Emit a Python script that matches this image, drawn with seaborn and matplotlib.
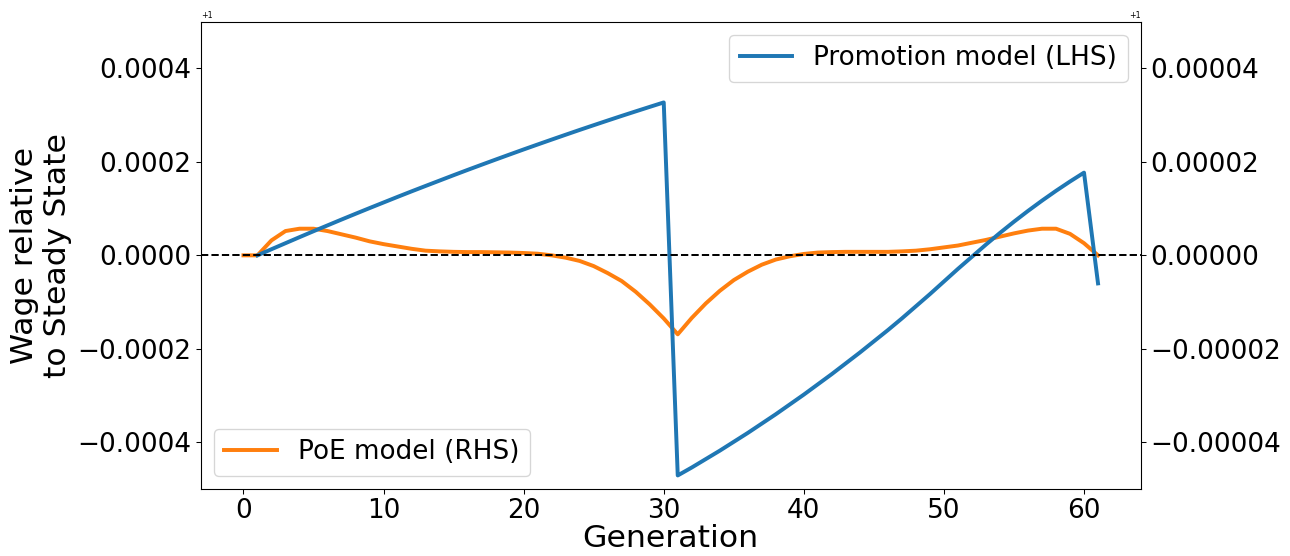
import numpy as np
import matplotlib
matplotlib.use("Agg")
import matplotlib.pyplot as plt
from matplotlib.ticker import ScalarFormatter
import seaborn as sns

# Generations
gen_promo = list(range(1, 62))
gen_poe = list(range(0, 62))

# Promotion model: wage deviation from steady state (units of 1e-4), generations 1..61
promo_dev_e4 = [
    0.000, 0.131, 0.260, 0.389, 0.516, 0.641, 0.766, 0.889, 1.011, 1.131,
    1.251, 1.369, 1.485, 1.600, 1.715, 1.828, 1.939, 2.049, 2.158, 2.266,
    2.372, 2.477, 2.581, 2.684, 2.785, 2.885, 2.984, 3.081, 3.177, 3.272,
    -4.71, -4.54, -4.36, -4.18, -3.99, -3.80, -3.60, -3.40, -3.19, -2.98,
    -2.76, -2.54, -2.31, -2.08, -1.84, -1.60, -1.35, -1.09, -0.83, -0.56,
    -0.29, -0.03, 0.23, 0.48, 0.72, 0.95, 1.17, 1.38, 1.58, 1.77,
    -0.60,
]

# PoE model: wage deviation from steady state (units of 1e-5), generations 0..61
poe_dev_e5 = [
    0.0, 0.0, 0.32, 0.52, 0.57, 0.57, 0.52, 0.45, 0.38, 0.30,
    0.24, 0.19, 0.14, 0.10, 0.085, 0.075, 0.07, 0.07, 0.065, 0.06,
    0.05, 0.035, 0.0, -0.05, -0.12, -0.23, -0.38, -0.55, -0.78, -1.05,
    -1.35, -1.69, -1.34, -1.03, -0.76, -0.53, -0.35, -0.20, -0.09, -0.02,
    0.03, 0.06, 0.07, 0.075, 0.075, 0.075, 0.075, 0.085, 0.10, 0.13,
    0.17, 0.21, 0.27, 0.33, 0.40, 0.47, 0.53, 0.57, 0.57, 0.46,
    0.26, 0.0,
]

steady_state = 1.0
left_ticks_dev = [-0.0004, -0.0002, 0.0, 0.0002, 0.0004]
right_ticks_dev = [-0.00004, -0.00002, 0.0, 0.00002, 0.00004]

wage_promo = steady_state + np.array(promo_dev_e4) * 1e-4
wage_poe = steady_state + np.array(poe_dev_e5) * 1e-5

DPI = 94.5
fig = plt.figure(figsize=(1290 / DPI, 556 / DPI), dpi=DPI)
ax1 = fig.add_subplot(111)
ax2 = ax1.twinx()
fig.subplots_adjust(left=0.1556, right=0.8843, top=0.961, bottom=0.1205)

sns.lineplot(x=gen_poe, y=wage_poe, ax=ax2, color="#ff7f0e", linewidth=3,
             label="PoE model (RHS)")
sns.lineplot(x=gen_promo, y=wage_promo, ax=ax1, color="#1f77b4", linewidth=3,
             label="Promotion model (LHS)")
ax1.axhline(steady_state, color="black", linestyle="--", linewidth=1.5)

ax1.set_zorder(ax2.get_zorder() + 1)
ax1.patch.set_visible(False)

ax1.set_ylim(steady_state - 0.0005, steady_state + 0.0005)
ax2.set_ylim(steady_state - 0.00005, steady_state + 0.00005)
ax1.set_yticks([steady_state + v for v in left_ticks_dev])
ax2.set_yticks([steady_state + v for v in right_ticks_dev])
ax1.yaxis.set_major_formatter(ScalarFormatter(useOffset=steady_state))
ax2.yaxis.set_major_formatter(ScalarFormatter(useOffset=steady_state))

ax1.tick_params(axis="both", labelsize=20)
ax2.tick_params(axis="y", labelsize=20)
ax1.yaxis.get_offset_text().set_fontsize(6)
ax2.yaxis.get_offset_text().set_fontsize(6)

ax1.set_xlabel("Generation", fontsize=24, labelpad=0)
ax1.set_ylabel("Wage relative\nto Steady State", fontsize=24)
ax2.set_ylabel("")

ax1.legend(loc="upper right", fontsize=20)
ax2.legend(loc="lower left", fontsize=20)

fig.savefig("out.png", dpi=DPI)
